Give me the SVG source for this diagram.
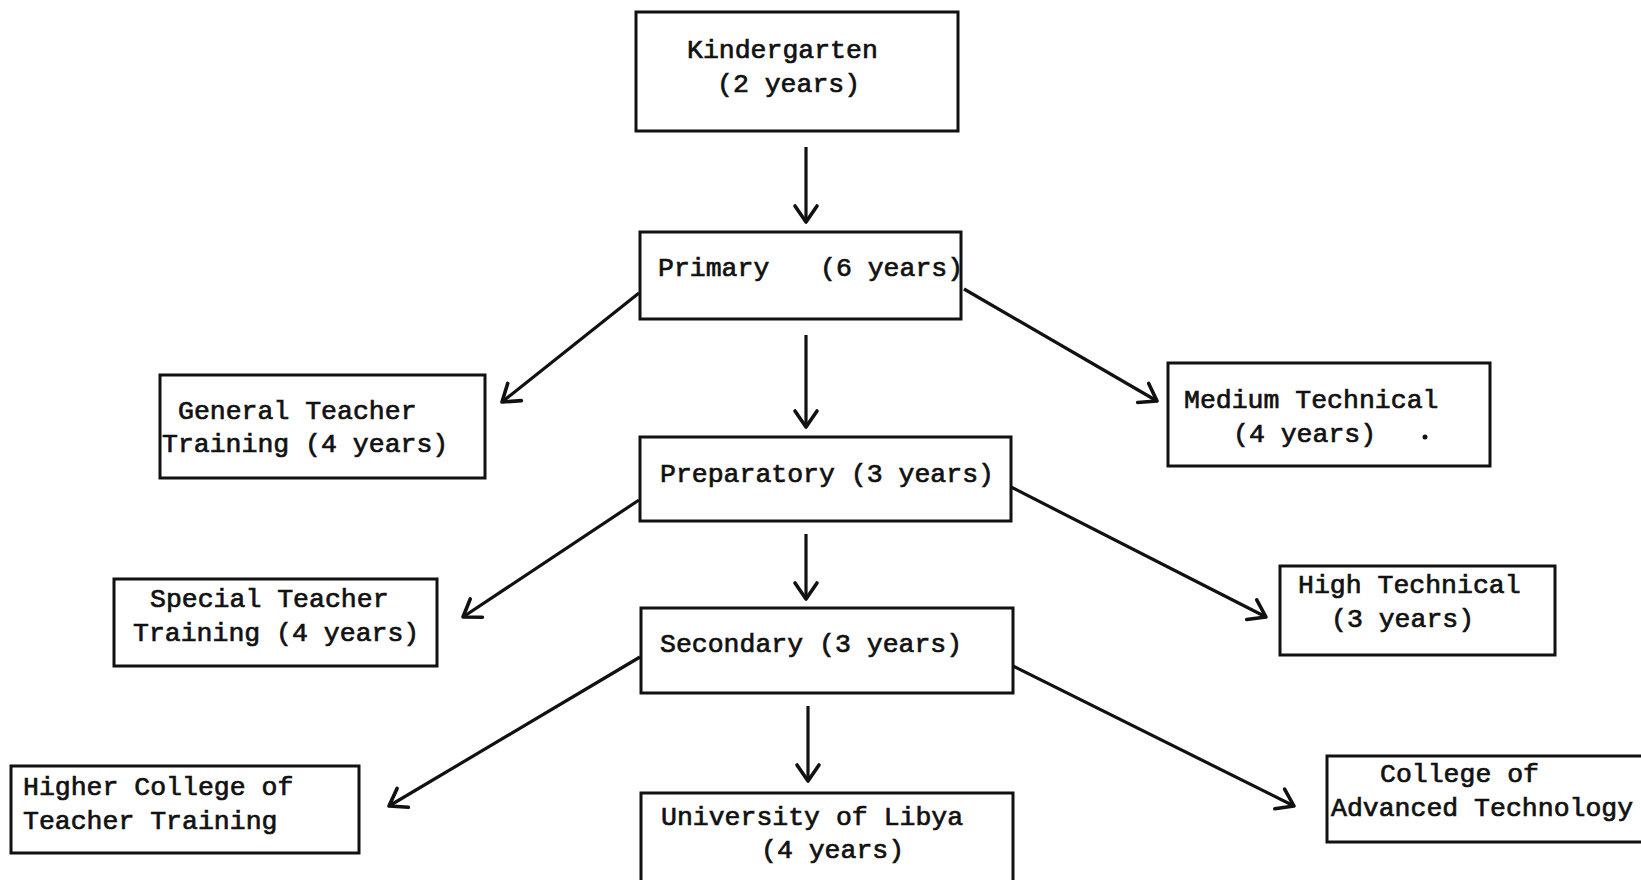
<svg xmlns="http://www.w3.org/2000/svg" width="1641" height="880" viewBox="0 0 1641 880">
  <style>
    .box { fill: #fff; stroke: #111; stroke-width: 3; }
    .lbl { font-family: "Liberation Mono", "Courier New", monospace; font-size: 26.5px; fill: #111; stroke: #111; stroke-width: 0.7px; }
    .edge { fill: none; stroke: #111; stroke-width: 3.2; marker-end: url(#open); }
  </style>
  <defs>
    <marker id="open" viewBox="-22 -14 25 28" markerWidth="25" markerHeight="28" refX="0" refY="0" orient="auto" markerUnits="userSpaceOnUse">
      <path d="M-16,-11 L0,0 L-16,11" fill="none" stroke="#111" stroke-width="3.6" stroke-linecap="round" stroke-linejoin="round"/>
    </marker>
  </defs>
  <rect width="1641" height="880" fill="#fff"/>

  <g id="connectors">
    <path class="edge" d="M806,147 L806,222"/>
    <path class="edge" d="M806,335 L806,427"/>
    <path class="edge" d="M806,534 L806,599"/>
    <path class="edge" d="M808,706 L808,781"/>
    <path class="edge" d="M639,293 L502,402"/>
    <path class="edge" d="M964,289 L1157,401"/>
    <path class="edge" d="M639,500 L463,617"/>
    <path class="edge" d="M1011,487 L1266,617"/>
    <path class="edge" d="M640,657 L389,806"/>
    <path class="edge" d="M1013,666 L1294,806"/>
  </g>

  <g id="kindergarten">
    <rect class="box" x="636" y="12" width="322" height="119"/>
    <text class="lbl" x="687" y="58">Kindergarten</text>
    <text class="lbl" x="717" y="92">(2 years)</text>
  </g>

  <g id="primary">
    <rect class="box" x="640" y="232" width="321" height="87"/>
    <text class="lbl" y="276"><tspan x="658">Primary</tspan><tspan x="820">(6 years)</tspan></text>
  </g>

  <g id="preparatory">
    <rect class="box" x="640" y="437" width="371" height="84"/>
    <text class="lbl" x="660" y="482">Preparatory (3 years)</text>
  </g>

  <g id="secondary">
    <rect class="box" x="641" y="608" width="372" height="85"/>
    <text class="lbl" x="660" y="652">Secondary (3 years)</text>
  </g>

  <g id="university">
    <rect class="box" x="641" y="793" width="372" height="90"/>
    <text class="lbl" x="661" y="825">University of Libya</text>
    <text class="lbl" x="761" y="858">(4 years)</text>
  </g>

  <g id="general-teacher-training">
    <rect class="box" x="160" y="375" width="325" height="103"/>
    <text class="lbl" x="178" y="419">General Teacher</text>
    <text class="lbl" x="162" y="452">Training (4 years)</text>
  </g>

  <g id="medium-technical">
    <rect class="box" x="1168" y="363" width="322" height="103"/>
    <text class="lbl" x="1184" y="408">Medium Technical</text>
    <text class="lbl" x="1233" y="442">(4 years)</text>
    <circle cx="1425" cy="437" r="2.5" fill="#111"/>
  </g>

  <g id="special-teacher-training">
    <rect class="box" x="114" y="579" width="323" height="87"/>
    <text class="lbl" x="150" y="607">Special Teacher</text>
    <text class="lbl" x="133" y="641">Training (4 years)</text>
  </g>

  <g id="high-technical">
    <rect class="box" x="1280" y="566" width="275" height="89"/>
    <text class="lbl" x="1298" y="593">High Technical</text>
    <text class="lbl" x="1331" y="627">(3 years)</text>
  </g>

  <g id="higher-college-teacher-training">
    <rect class="box" x="11" y="766" width="348" height="87"/>
    <text class="lbl" x="23" y="795">Higher College of</text>
    <text class="lbl" x="23" y="829">Teacher Training</text>
  </g>

  <g id="college-advanced-technology">
    <rect class="box" x="1327" y="756" width="320" height="86"/>
    <text class="lbl" x="1380" y="782">College of</text>
    <text class="lbl" x="1331" y="816">Advanced Technology</text>
  </g>
</svg>
